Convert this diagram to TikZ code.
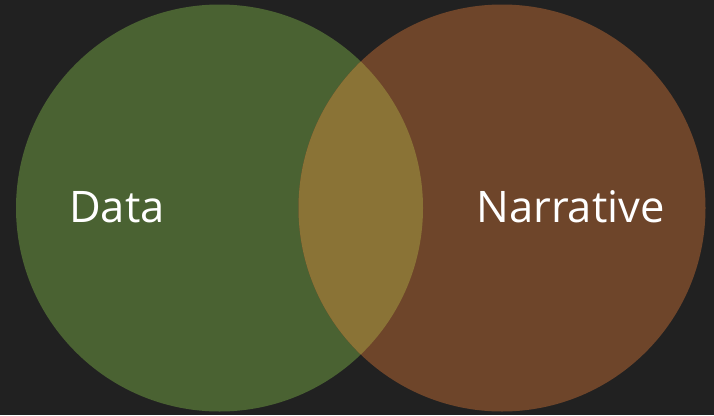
\documentclass[tikz,border=0pt]{standalone}
\usepackage{fontspec}
\setmainfont{Open Sans}
\definecolor{bg}{HTML}{212121}
\definecolor{dgreen}{RGB}{74,98,50}
\definecolor{dbrown}{RGB}{110,69,42}
\definecolor{dmix}{RGB}{138,115,54}
\begin{document}
\begin{tikzpicture}[x=1pt,y=-1pt,
  lbl/.style={text=white,font=\fontsize{43.5}{43.5}\selectfont,inner sep=0pt}]
\fill[bg] (0,0) rectangle (714,415);
\useasboundingbox (0,0) rectangle (714,415);
\fill[dgreen] (219.5,208) circle (203.5);
\fill[dbrown] (502,208) circle (203.5);
\begin{scope}
\clip (219.5,208) circle (203.5);
\fill[dmix] (502,208) circle (203.5);
\end{scope}
\node[lbl] (data) at (117,207) {Data};
\node[lbl] (narr) at (570.5,207) {Narrative};
\end{tikzpicture}
\end{document}
